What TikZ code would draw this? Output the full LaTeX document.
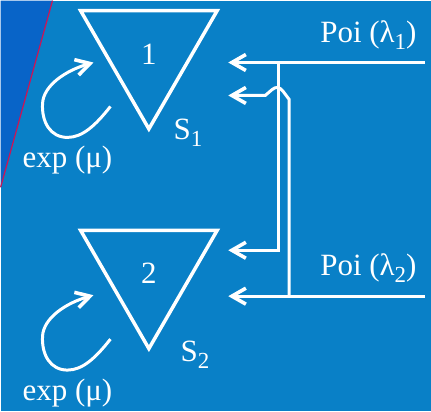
\documentclass[tikz,border=0pt]{standalone}
\usepackage{fontspec}
\setmainfont{Liberation Serif}
\usetikzlibrary{arrows.meta,positioning,calc,shapes.geometric}
\definecolor{slide}{RGB}{9,128,199}
\definecolor{band}{RGB}{8,100,200}
\definecolor{edge}{RGB}{205,20,85}
\newcommand{\lowsub}[1]{\raisebox{-7pt}{\fontsize{23}{23}\selectfont #1}}
\tikzset{
  queue/.style={draw=white,line width=3.5pt,regular polygon,regular polygon sides=3,
    shape border rotate=180,minimum size=158pt,inner sep=0pt},
  lbl/.style={text=white,font=\fontsize{31}{36}\selectfont,inner sep=0pt},
  flow/.style={draw=white,line width=3pt,-{Straight Barb[length=14pt,width=16pt,line width=3.6pt]}},
}

\begin{document}
\begin{tikzpicture}[x=1pt,y=-1pt]
\fill[slide] (0,0) rectangle (431,411);
\fill[band] (0,0) -- (52,0) -- (0,187) -- cycle;
\draw[edge,line width=1.2pt] (52,0) -- (0,187);

% the two servers
\node[queue] (q1) at (148.5,49.5){};
\node[queue] (q2) at (148.5,269.5){};
\node[lbl] (n1) at ([yshift=-4pt]q1.center){1};
\node[lbl] (n2) at ([yshift=-4pt]q2.center){2};
\node[lbl,anchor=base west] (s1) at (173,139){S\lowsub{1}};
\node[lbl,anchor=base west] (s2) at (180,361){S\lowsub{2}};

% service loops
\coordinate (r1s) at (110,106);
\coordinate (r1e) at (93,62);
\coordinate (r2s) at (110,339);
\coordinate (r2e) at (93,295);
\draw[flow] (r1s) .. controls (95,125) and (82,137) .. (67,137)
  .. controls (50,137) and (41,122) .. (42,103)
  .. controls (43,85) and (65,70) .. (r1e);
\draw[flow] (r2s) .. controls (95,358) and (82,370) .. (67,370)
  .. controls (50,370) and (41,355) .. (42,336)
  .. controls (43,318) and (65,303) .. (r2e);
\node[lbl,anchor=base] (m1) at (67,167){exp (μ)};
\node[lbl,anchor=base] (m2) at (67,400){exp (μ)};

% arrivals
\node[lbl,anchor=base west] (p1) at (320,42){Poi (λ\lowsub{1})};
\node[lbl,anchor=base west] (p2) at (320,275){Poi (λ\lowsub{2})};
\coordinate (in1) at (425,62);
\coordinate (in2) at (425,296);
\coordinate (j1) at (278,62);
\coordinate (j2) at (289,296);
\coordinate (t1a) at (228,62);
\coordinate (t1b) at (228,95);
\coordinate (t2a) at (228,250);
\coordinate (t2b) at (228,296);
\draw[flow] (in1) -- (t1a);
\draw[flow] (in2) -- (t2b);
\draw[flow] (j1) |- (t2a);
\draw[flow] (j2) -- (289,99) -- (283,91) .. controls (279,86) and (276,86) .. (272,89)
  -- (265,95) -- (t1b);
\end{tikzpicture}
\end{document}
